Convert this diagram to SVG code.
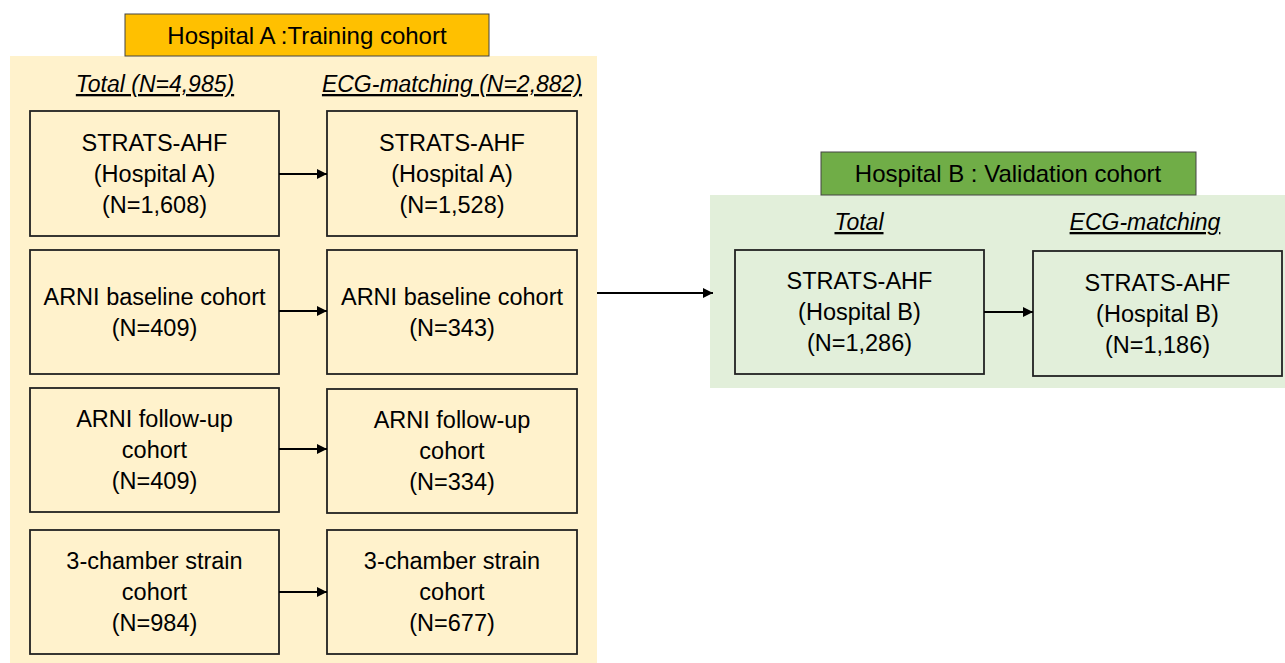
<svg xmlns="http://www.w3.org/2000/svg" width="1285" height="663" viewBox="0 0 1285 663">
<style>
  text { font-family: "Liberation Sans", Arial, sans-serif; fill: #000; text-anchor: middle; }
  .box { font-size: 23.5px; }
  .title { font-size: 24px; }
  .hdr { font-size: 23px; font-style: italic; text-decoration: underline; }
  .nodeA { fill: #FFF2CC; stroke: #222; stroke-width: 1.8; }
  .nodeB { fill: #E2EFDA; stroke: #222; stroke-width: 1.8; }
  .conn { stroke: #000; stroke-width: 2; fill: none; marker-end: url(#arr); }
</style>
<defs>
  <marker id="arr" viewBox="0 0 10 10" refX="10" refY="5" markerWidth="5" markerHeight="5" orient="auto" markerUnits="strokeWidth">
    <path d="M0,0 L10,5 L0,10 z" fill="#000"/>
  </marker>
</defs>
<rect width="1285" height="663" fill="#fff"/>

<!-- Hospital A panel -->
<g id="panelA">
  <rect x="10" y="56" width="587" height="607" fill="#FFF2CC"/>
  <rect x="125" y="14" width="364" height="42" fill="#FFC000" stroke="#444" stroke-width="1"/>
  <text class="title" x="307" y="44">Hospital A :Training cohort</text>
  <text class="hdr" x="155" y="92">Total (N=4,985)</text>
  <text class="hdr" x="452" y="92">ECG-matching (N=2,882)</text>
</g>

<!-- Hospital B panel -->
<g id="panelB">
  <rect x="710" y="195" width="575" height="193" fill="#E2EFDA"/>
  <rect x="821" y="152" width="375" height="43" fill="#70AD47" stroke="#444" stroke-width="1"/>
  <text class="title" x="1008" y="182">Hospital B : Validation cohort</text>
  <text class="hdr" x="859" y="230">Total</text>
  <text class="hdr" x="1145" y="230">ECG-matching</text>
</g>

<g id="a1">
  <rect class="nodeA" x="30" y="111" width="249" height="125"/>
  <text class="box" x="154.5" y="151">STRATS-AHF</text>
  <text class="box" x="154.5" y="182">(Hospital A)</text>
  <text class="box" x="154.5" y="213">(N=1,608)</text>
</g>
<g id="a2">
  <rect class="nodeA" x="327" y="111" width="250" height="125"/>
  <text class="box" x="452" y="151">STRATS-AHF</text>
  <text class="box" x="452" y="182">(Hospital A)</text>
  <text class="box" x="452" y="213">(N=1,528)</text>
</g>
<g id="b1">
  <rect class="nodeA" x="30" y="250" width="249" height="124"/>
  <text class="box" x="154.5" y="305">ARNI baseline cohort</text>
  <text class="box" x="154.5" y="336">(N=409)</text>
</g>
<g id="b2">
  <rect class="nodeA" x="327" y="250" width="250" height="124"/>
  <text class="box" x="452" y="305">ARNI baseline cohort</text>
  <text class="box" x="452" y="336">(N=343)</text>
</g>
<g id="c1">
  <rect class="nodeA" x="30" y="388" width="249" height="124"/>
  <text class="box" x="154.5" y="427">ARNI follow-up</text>
  <text class="box" x="154.5" y="458">cohort</text>
  <text class="box" x="154.5" y="489">(N=409)</text>
</g>
<g id="c2">
  <rect class="nodeA" x="327" y="389" width="250" height="124"/>
  <text class="box" x="452" y="428">ARNI follow-up</text>
  <text class="box" x="452" y="459">cohort</text>
  <text class="box" x="452" y="490">(N=334)</text>
</g>
<g id="d1">
  <rect class="nodeA" x="30" y="530" width="249" height="124"/>
  <text class="box" x="154.5" y="569">3-chamber strain</text>
  <text class="box" x="154.5" y="600">cohort</text>
  <text class="box" x="154.5" y="631">(N=984)</text>
</g>
<g id="d2">
  <rect class="nodeA" x="327" y="530" width="250" height="124"/>
  <text class="box" x="452" y="569">3-chamber strain</text>
  <text class="box" x="452" y="600">cohort</text>
  <text class="box" x="452" y="631">(N=677)</text>
</g>
<g id="e1">
  <rect class="nodeB" x="735" y="250" width="249" height="124"/>
  <text class="box" x="859.5" y="289">STRATS-AHF</text>
  <text class="box" x="859.5" y="320">(Hospital B)</text>
  <text class="box" x="859.5" y="351">(N=1,286)</text>
</g>
<g id="e2">
  <rect class="nodeB" x="1033" y="251" width="249" height="125"/>
  <text class="box" x="1157.5" y="291">STRATS-AHF</text>
  <text class="box" x="1157.5" y="322">(Hospital B)</text>
  <text class="box" x="1157.5" y="353">(N=1,186)</text>
</g>

<g id="connectors">
  <line class="conn" x1="279" y1="174" x2="327" y2="174"/>
  <line class="conn" x1="279" y1="311" x2="327" y2="311"/>
  <line class="conn" x1="279" y1="449" x2="327" y2="449"/>
  <line class="conn" x1="279" y1="592" x2="327" y2="592"/>
  <line class="conn" x1="597" y1="293" x2="713" y2="293"/>
  <line class="conn" x1="984" y1="312" x2="1033" y2="312"/>
</g>
</svg>
